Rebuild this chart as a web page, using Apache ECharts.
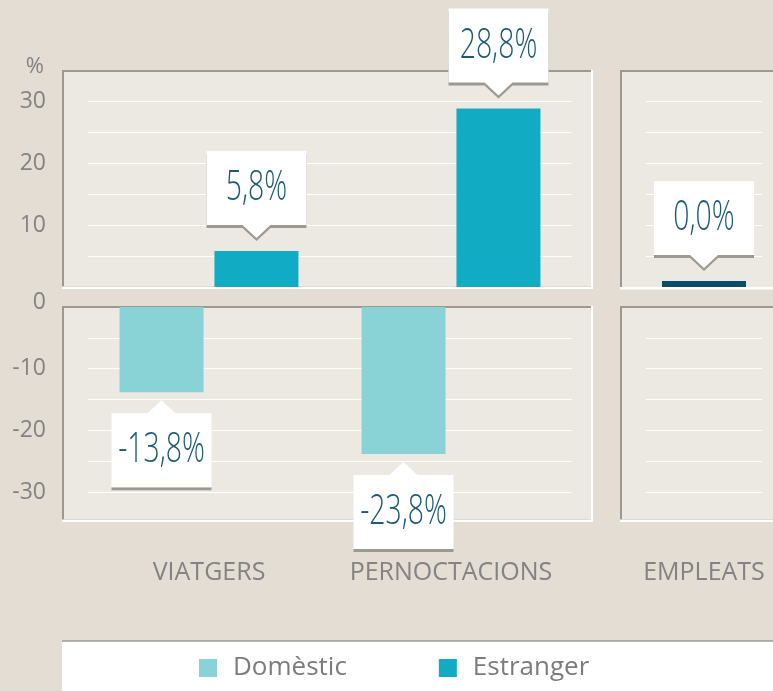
<!DOCTYPE html>
<html>
<head>
<meta charset="utf-8">
<script src="https://cdn.jsdelivr.net/npm/echarts@6/dist/echarts.min.js"></script>
<style>
  html, body { margin: 0; padding: 0; background: #e3ddd3; }
  #chart { width: 773px; height: 691px; }
</style>
</head>
<body>
<div id="chart"></div>
<script>
// data
const groups = ['VIATGERS', 'PERNOCTACIONS'];
const domestic = [-13.8, -23.8];
const foreign = [5.8, 28.8];
const staffCats = ['EMPLEATS'];
const staff = [0.0];
const ticksUp = [0, 10, 20, 30];
const ticksDown = [-10, -20, -30];

const C_DOM = '#89d3d6';
const C_FOR = '#12abc4';
const C_STAFF = '#0b4c6b';
const C_GREY = '#9c9a90';
const C_TEXT = '#838383';

const chart = echarts.init(document.getElementById('chart'));

const onlyPos = arr => arr.map(v => (v >= 0 ? v : null));
const onlyNeg = arr => arr.map(v => (v < 0 ? v : null));

// [category index, value, slot] ; slot -1 = left bar, +1 = right bar, 0 = single bar
function calloutData(list, keep) {
    const out = [];
    list.forEach(([vals, slot]) => {
        vals.forEach((v, i) => { if (keep(v)) out.push([i, v, slot]); });
    });
    return out;
}

function renderCallout(params, api) {
    const v = api.value(1);
    const p = api.coord([api.value(0), v]);
    const base = api.coord([api.value(0), 0]);
    const x = p[0] + api.value(2) * 47.5;
    const w = 50, h = 74, pw = 14, ph = 13;
    const txt = v.toFixed(1).replace('.', ',') + '%';
    let white, grey, top;
    if (v >= 0) {
        const tip = Math.min(p[1], base[1] - 6) - 13;
        top = tip - ph - h;
        const b = top + h;
        white = [[x - w, top], [x + w, top], [x + w, b], [x + pw, b], [x, tip], [x - pw, b], [x - w, b]];
        grey = white.map(q => [q[0], q[1] + 3]);
    } else {
        const tip = p[1] + 8;
        top = tip + ph;
        const b = top + h;
        white = [[x - w, top], [x - pw, top], [x, tip], [x + pw, top], [x + w, top], [x + w, b], [x - w, b]];
        grey = [[x - w, b], [x + w, b], [x + w, b + 3], [x - w, b + 3]];
    }
    return {
        type: 'group',
        children: [
            { type: 'polygon', shape: { points: grey }, style: { fill: C_GREY } },
            { type: 'polygon', shape: { points: white }, style: { fill: '#fff' } },
            {
                type: 'text', x: x, y: top + h / 2, scaleX: 0.66,
                style: {
                    text: txt, fill: '#1c5a7a',
                    font: '300 43px "Open Sans", sans-serif',
                    align: 'center', verticalAlign: 'middle'
                }
            }
        ]
    };
}

// panel backgrounds: [x, y, w, h]
const panels = [[62, 70, 531, 219], [62, 306, 531, 216], [620, 70, 200, 219.5], [620, 306, 200, 216]];
const graphics = [];
panels.forEach(([x, y, w, h]) => {
    graphics.push({ type: 'rect', z: -5, shape: { x: x, y: y, width: w, height: h }, style: { fill: '#ffffff' } });
    graphics.push({ type: 'rect', z: -5, shape: { x: x, y: y, width: w - 2, height: h - 2.5 }, style: { fill: C_GREY } });
    graphics.push({ type: 'rect', z: -5, shape: { x: x + 2, y: y + 2, width: w - 4, height: h - 4.5 }, style: { fill: '#ece9e3' } });
});
graphics.push({ type: 'rect', z: -5, shape: { x: 62, y: 641, width: 720, height: 60 }, style: { fill: '#ffffff' } });
graphics.push({ type: 'line', z: -5, shape: { x1: 62, y1: 641, x2: 782, y2: 641 }, style: { stroke: C_GREY, lineWidth: 1.5 } });

const splitLine = { show: true, showMinLine: false, showMaxLine: false, lineStyle: { color: '#ffffff', width: 1.2 } };

function xAxis(gridIndex, data, showLabel) {
    return {
        type: 'category', gridIndex: gridIndex, data: data,
        axisLine: { show: false }, axisTick: { show: false }, splitLine: { show: false },
        axisLabel: { show: showLabel, interval: 0, color: C_TEXT, fontSize: 25, margin: 37 }
    };
}

function yAxis(gridIndex, min, max, ticks) {
    return {
        type: 'value', gridIndex: gridIndex, min: min, max: max, interval: 5,
        axisLine: { show: false }, axisTick: { show: false }, splitLine: splitLine,
        axisLabel: {
            show: !!ticks, color: C_TEXT, fontSize: 23, margin: 42,
            showMinLabel: true, showMaxLabel: true,
            formatter: v => {
                if (!ticks || ticks.indexOf(v) < 0) return '';
                return v === 0 ? '{z|0}' : String(v);
            },
            rich: { z: { color: C_TEXT, fontSize: 23, padding: [30, 0, 0, 0] } }
        }
    };
}

const topY = yAxis(0, 0, 35, ticksUp);
topY.name = '%';
topY.nameLocation = 'end';
topY.nameGap = 3;
topY.nameTextStyle = { color: C_TEXT, fontSize: 22, align: 'right', verticalAlign: 'middle', padding: [0, 44, 0, 0] };

const option = {
    backgroundColor: '#e3ddd3',
    animation: false,
    textStyle: { fontFamily: '"Open Sans", sans-serif' },
    graphic: graphics,
    legend: {
        data: ['Domèstic', 'Estranger'],
        left: 199, top: 655, padding: 0,
        itemWidth: 18, itemHeight: 18, itemGap: 92,
        icon: 'rect',
        textStyle: { color: '#7c7c7c', fontSize: 26, padding: [0, 0, 0, 11] }
    },
    grid: [
        { left: 88, top: 70, width: 484, height: 217, outerBoundsMode: 'none' },
        { left: 88, top: 307, width: 484, height: 216, outerBoundsMode: 'none' },
        { left: 646, top: 70, width: 116, height: 217, outerBoundsMode: 'none' },
        { left: 646, top: 307, width: 116, height: 216, outerBoundsMode: 'none' }
    ],
    xAxis: [
        xAxis(0, groups, false),
        xAxis(1, groups, true),
        xAxis(2, staffCats, false),
        xAxis(3, staffCats, true)
    ],
    yAxis: [
        topY,
        yAxis(1, -35, 0, ticksDown),
        yAxis(2, 0, 35, null),
        yAxis(3, -35, 0, null)
    ],
    series: [
        { name: 'Domèstic', type: 'bar', xAxisIndex: 0, yAxisIndex: 0, data: onlyPos(domestic), itemStyle: { color: C_DOM }, barWidth: 84, barGap: '13%' },
        { name: 'Estranger', type: 'bar', xAxisIndex: 0, yAxisIndex: 0, data: onlyPos(foreign), itemStyle: { color: C_FOR }, barWidth: 84, barGap: '13%' },
        { name: 'Domèstic', type: 'bar', xAxisIndex: 1, yAxisIndex: 1, data: onlyNeg(domestic), itemStyle: { color: C_DOM }, barWidth: 84, barGap: '13%' },
        { name: 'Estranger', type: 'bar', xAxisIndex: 1, yAxisIndex: 1, data: onlyNeg(foreign), itemStyle: { color: C_FOR }, barWidth: 84, barGap: '13%' },
        { name: 'Empleats', type: 'bar', xAxisIndex: 2, yAxisIndex: 2, data: staff, itemStyle: { color: C_STAFF }, barWidth: 84, barMinHeight: 6 },
        {
            type: 'custom', xAxisIndex: 0, yAxisIndex: 0, z: 10, renderItem: renderCallout,
            data: calloutData([[domestic, -1], [foreign, 1]], v => v >= 0)
        },
        {
            type: 'custom', xAxisIndex: 1, yAxisIndex: 1, z: 10, renderItem: renderCallout,
            data: calloutData([[domestic, -1], [foreign, 1]], v => v < 0)
        },
        {
            type: 'custom', xAxisIndex: 2, yAxisIndex: 2, z: 10, renderItem: renderCallout,
            data: calloutData([[staff, 0]], v => v >= 0)
        }
    ]
};

chart.setOption(option);
</script>
</body>
</html>
